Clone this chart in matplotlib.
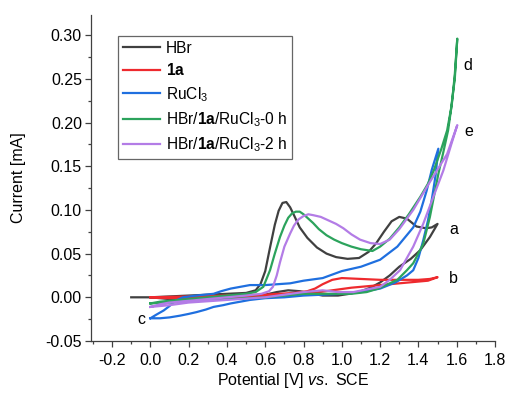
import matplotlib
matplotlib.use("Agg")
import matplotlib.pyplot as plt
from matplotlib.ticker import MultipleLocator

plt.rcParams['font.family'] = ['Liberation Sans', 'DejaVu Sans']
plt.rcParams['mathtext.fontset'] = 'custom'
plt.rcParams['mathtext.rm'] = 'Liberation Sans'
plt.rcParams['mathtext.it'] = 'Liberation Sans:italic'
plt.rcParams['mathtext.bf'] = 'Liberation Sans:bold'

# HBr (a)
hbr_x = [-0.10, 0.00, 0.10, 0.20, 0.30, 0.40, 0.50, 0.55, 0.575, 0.60, 0.625, 0.65, 0.67, 0.69, 0.71, 0.73,
         0.75, 0.78, 0.82, 0.87, 0.92, 0.97, 1.03, 1.09, 1.14, 1.18, 1.22, 1.26, 1.30, 1.34,
         1.39, 1.44, 1.47, 1.50,
         1.46, 1.41, 1.36, 1.30, 1.25, 1.20, 1.15, 1.10, 1.04, 0.98, 0.90, 0.85, 0.78, 0.72,
         0.66, 0.60, 0.50, 0.30, 0.10, 0.00]
hbr_y = [0.000, 0.000, 0.001, 0.002, 0.003, 0.004, 0.005, 0.008, 0.015, 0.030, 0.057, 0.083, 0.099, 0.108, 0.109, 0.103,
         0.094, 0.080, 0.068, 0.057, 0.050, 0.046, 0.044, 0.045, 0.052, 0.062, 0.075, 0.087, 0.092, 0.090,
         0.081, 0.079, 0.080, 0.084,
         0.069, 0.054, 0.044, 0.035, 0.025, 0.017, 0.011, 0.007, 0.004, 0.002, 0.002, 0.004, 0.007, 0.008,
         0.006, 0.003, 0.000, -0.002, -0.002, 0.000]

# 1a (b)
r1a_x = [0.00, 0.20, 0.40, 0.60, 0.75, 0.82, 0.86, 0.90, 0.95, 1.00, 1.10, 1.20, 1.30, 1.40, 1.46, 1.50,
         1.45, 1.35, 1.25, 1.15, 1.05, 0.95, 0.85, 0.70, 0.50, 0.30, 0.10, 0.00]
r1a_y = [0.000, 0.001, 0.002, 0.003, 0.005, 0.007, 0.010, 0.015, 0.020, 0.022, 0.021, 0.020, 0.020, 0.020, 0.021, 0.023,
         0.019, 0.017, 0.015, 0.013, 0.011, 0.008, 0.005, 0.002, 0.000, -0.001, -0.001, 0.000]

# RuCl3 (c)
ru_x = [0.00, 0.05, 0.10, 0.155, 0.20, 0.24, 0.29, 0.33, 0.38, 0.42, 0.47, 0.52, 0.60, 0.70, 0.80,
        0.90, 1.00, 1.10, 1.20, 1.28, 1.34, 1.373, 1.40, 1.425, 1.45, 1.47, 1.49, 1.504,
        1.47, 1.443, 1.41, 1.373, 1.29, 1.20, 1.10, 1.00, 0.90, 0.80, 0.73, 0.60, 0.52, 0.47,
        0.42, 0.37, 0.33, 0.24, 0.17, 0.13, 0.10, 0.07, 0.03, 0.00]
ru_y = [-0.024, -0.024, -0.023, -0.021, -0.019, -0.017, -0.014, -0.011, -0.009, -0.007, -0.005, -0.003, -0.001, 0.000, 0.002,
        0.003, 0.004, 0.006, 0.010, 0.017, 0.025, 0.031, 0.045, 0.065, 0.088, 0.112, 0.140, 0.170,
        0.146, 0.122, 0.098, 0.080, 0.058, 0.043, 0.035, 0.030, 0.022, 0.019, 0.016, 0.014, 0.014, 0.012,
        0.010, 0.007, 0.004, 0.002, 0.000, -0.004, -0.010, -0.015, -0.020, -0.024]

# HBr/1a/RuCl3-0 h (d)
g0_x = [0.00, 0.05, 0.10, 0.20, 0.30, 0.40, 0.50, 0.55, 0.59, 0.625, 0.65, 0.677, 0.70, 0.72, 0.74, 0.76, 0.78,
        0.80, 0.82, 0.85, 0.88, 0.92, 0.96, 1.00, 1.05, 1.10, 1.16, 1.20, 1.25, 1.30, 1.35, 1.41, 1.45, 1.48,
        1.52, 1.55, 1.57, 1.59, 1.603,
        1.59, 1.575, 1.555, 1.53, 1.505, 1.487, 1.46, 1.425, 1.373, 1.34, 1.29, 1.25, 1.19, 1.13, 1.05, 0.99, 0.90,
        0.80, 0.70, 0.60, 0.40, 0.20, 0.10, 0.00]
g0_y = [-0.007, -0.005, -0.004, -0.002, 0.000, 0.002, 0.004, 0.006, 0.012, 0.031, 0.050, 0.069, 0.082, 0.091, 0.096, 0.098, 0.098,
        0.095, 0.091, 0.085, 0.078, 0.071, 0.066, 0.062, 0.058, 0.055, 0.053, 0.058, 0.067, 0.080, 0.095, 0.115, 0.130, 0.145,
        0.170, 0.191, 0.215, 0.250, 0.296,
        0.255, 0.222, 0.191, 0.166, 0.142, 0.122, 0.092, 0.061, 0.039, 0.031, 0.020, 0.016, 0.010, 0.006, 0.004, 0.004, 0.004,
        0.004, 0.002, 0.000, -0.002, -0.005, -0.006, -0.007]

# HBr/1a/RuCl3-2 h (e)
p2_x = [0.00, 0.05, 0.10, 0.20, 0.30, 0.40, 0.50, 0.58, 0.62, 0.64, 0.66, 0.677, 0.70, 0.73, 0.75, 0.773, 0.80,
        0.825, 0.85, 0.89, 0.93, 0.97, 1.008, 1.05, 1.095, 1.15, 1.20, 1.25, 1.30, 1.373, 1.46, 1.55, 1.603,
        1.573, 1.53, 1.478, 1.425, 1.373, 1.304, 1.25, 1.20, 1.13, 1.06, 0.98, 0.90, 0.80, 0.70, 0.60,
        0.40, 0.20, 0.10, 0.00]
p2_y = [-0.011, -0.008, -0.006, -0.004, -0.002, 0.000, 0.002, 0.004, 0.007, 0.012, 0.025, 0.040, 0.058, 0.073, 0.082, 0.089, 0.093,
        0.095, 0.094, 0.092, 0.088, 0.084, 0.079, 0.072, 0.066, 0.062, 0.061, 0.066, 0.078, 0.100, 0.132, 0.164, 0.197,
        0.176, 0.145, 0.115, 0.084, 0.058, 0.031, 0.020, 0.012, 0.009, 0.006, 0.006, 0.008, 0.006, 0.003, 0.000,
        -0.003, -0.006, -0.009, -0.011]

labels = ['HBr', r'$\mathbf{1a}$', r'RuCl$_3$', r'HBr/$\mathbf{1a}$/RuCl$_3$-0 h', r'HBr/$\mathbf{1a}$/RuCl$_3$-2 h']
colors = ['#404040', '#ee2a2e', '#1f6fdf', '#2ca35c', '#b37ce6']
curve_tags = ['a', 'b', 'c', 'd', 'e']
tag_x = [1.585, 1.585, -0.045, 1.66, 1.665]
tag_y = [0.078, 0.022, -0.025, 0.265, 0.190]

fig = plt.figure(figsize=(5.09, 3.94), dpi=100)
ax = fig.add_axes([0.1788, 0.1345, 0.7937, 0.8274])

for xs, ys, lab, c in zip([hbr_x, r1a_x, ru_x, g0_x, p2_x], [hbr_y, r1a_y, ru_y, g0_y, p2_y], labels, colors):
    ax.plot(xs, ys, color=c, lw=1.6, label=lab, solid_joinstyle='round')

for t, x, y in zip(curve_tags, tag_x, tag_y):
    ax.text(x, y, t, fontsize=11.5, ha='center', va='center', color='black')

ax.set_xlim(-0.31, 1.8)
ax.set_ylim(-0.05, 0.323)
ax.xaxis.set_major_locator(MultipleLocator(0.2))
ax.xaxis.set_minor_locator(MultipleLocator(0.1))
ax.yaxis.set_major_locator(MultipleLocator(0.05))
ax.yaxis.set_minor_locator(MultipleLocator(0.025))
ax.xaxis.set_major_formatter(plt.FuncFormatter(lambda v, p: f'{v:.1f}'))
ax.yaxis.set_major_formatter(plt.FuncFormatter(lambda v, p: f'{v:.2f}'))
ax.spines['top'].set_visible(False)
ax.spines['right'].set_visible(False)
for s in ['left', 'bottom']:
    ax.spines[s].set_color('#404040')
    ax.spines[s].set_linewidth(0.9)
ax.tick_params(which='major', length=4.5, width=0.9, color='#404040', labelsize=11.5)
ax.tick_params(axis='x', which='major', pad=4)
ax.tick_params(axis='y', which='major', pad=2)
ax.tick_params(which='minor', length=2.5, width=0.9, color='#404040')

ax.set_xlabel(r'Potential [V] $\mathit{vs.}$ SCE', fontsize=11.5, labelpad=2)
ax.set_ylabel('Current [mA]', fontsize=11.5, labelpad=14)

leg = ax.legend(loc='upper left', bbox_to_anchor=(0.067, 0.935), fontsize=11.2, frameon=True,
                fancybox=False, edgecolor='#404040', handlelength=2.4, handletextpad=0.35,
                labelspacing=0.42, borderpad=0.3, borderaxespad=0)
leg.get_frame().set_linewidth(0.9)

fig.savefig('out.png', dpi=100)
